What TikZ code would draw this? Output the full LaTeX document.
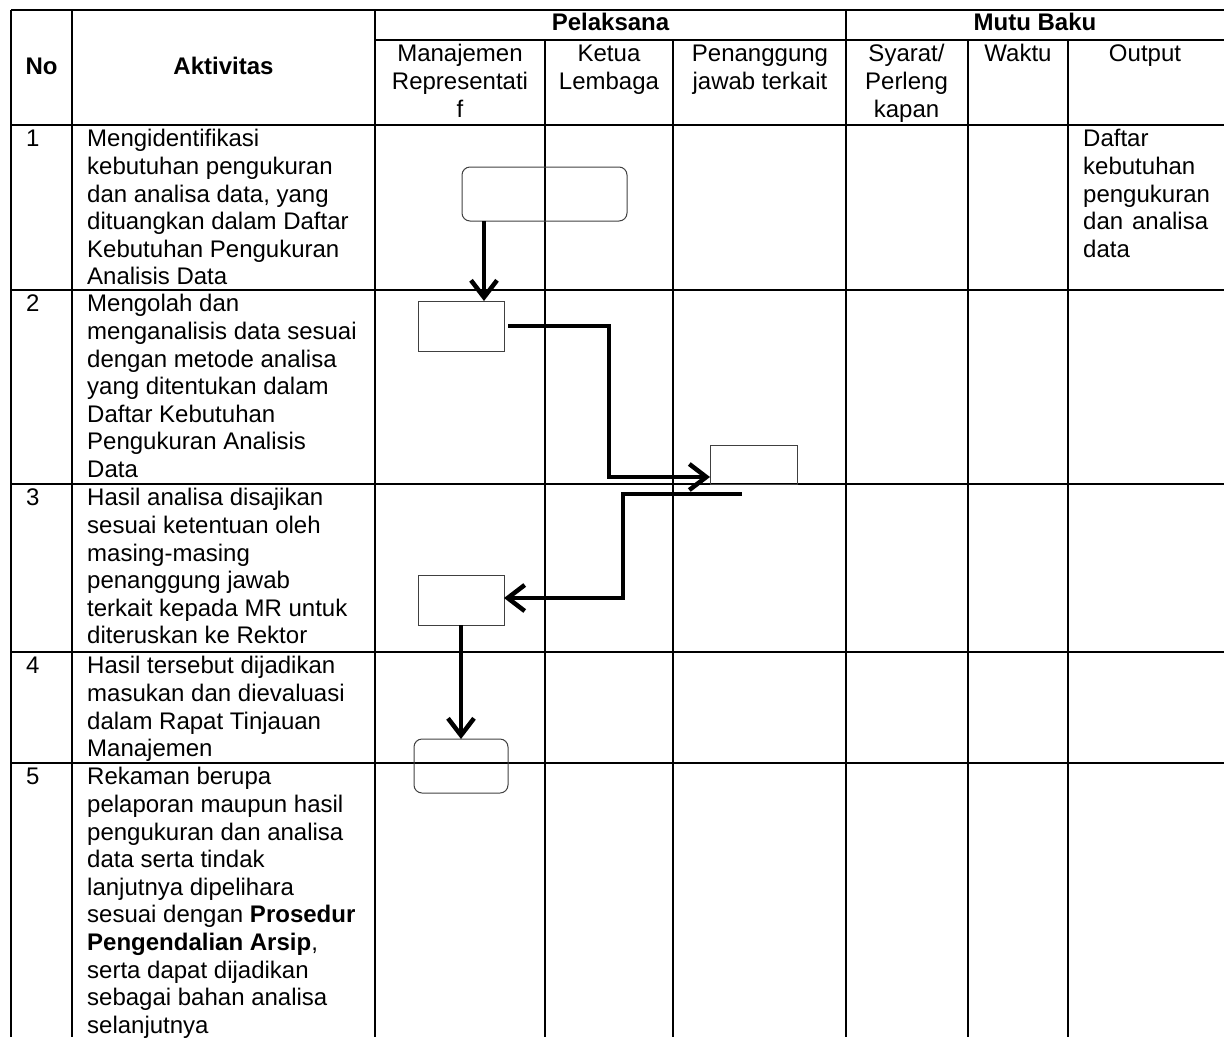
\documentclass[tikz,border=0pt]{standalone}
\usepackage{fontspec}
\setmainfont{Liberation Sans}
\usetikzlibrary{arrows.meta}
\newcommand\fst{\rule{0pt}{21.7pt}}
\newcommand\cellfont{\fontsize{24}{27.6}\selectfont}
\begin{document}
\begin{tikzpicture}[x=1pt,y=-1pt,
  tbl/.style={line width=2pt, black},
  conn/.style={line width=4.5pt, -{Straight Barb[length=17pt,width=26pt]}},
  procbox/.style={draw=black!75, line width=1pt, inner sep=0pt, outer sep=0pt},
  termbox/.style={procbox, rounded corners=8pt},
  cell/.style={anchor=north west, inner sep=0pt, align=left, font=\cellfont},
  hcell/.style={anchor=north, inner sep=0pt, align=center, font=\cellfont},
  bhead/.style={anchor=base, inner sep=0pt, font=\cellfont\bfseries}]
\useasboundingbox (0,0) rectangle (1224,1037);
% table grid
\draw[tbl] (11,10) -- (1224,10);
\draw[tbl] (375,40) -- (1224,40);
\foreach \y in {125,290,484,652,763} \draw[tbl] (11,\y) -- (1224,\y);
\foreach \x in {11,72,375,846} \draw[tbl] (\x,10) -- (\x,1037);
\foreach \x in {545,673,968,1068} \draw[tbl] (\x,40) -- (\x,1037);
% headers
\node[bhead] (hno) at (41.5,74) {No};
\node[bhead] (hakt) at (223.5,74) {Aktivitas};
\node[hcell,font=\cellfont\bfseries] (hpel) at (610.5,9) {\fst Pelaksana};
\node[hcell,font=\cellfont\bfseries] (hmutu) at (1035,9) {\fst Mutu Baku};
\node[hcell] (hmr) at (460,40) {\fst Manajemen\\Representati\\f};
\node[hcell] (hkl) at (609,40) {\fst Ketua\\Lembaga};
\node[hcell] (hpj) at (760,40) {\fst Penanggung\\jawab terkait};
\node[hcell] (hsy) at (906.5,40) {\fst Syarat/\\Perleng\\kapan};
\node[hcell] (hwk) at (1018,40) {\fst Waktu};
\node[hcell] (hout) at (1145,40) {\fst Output};
% numbers
\node[cell] (n1) at (26,125) {\fst 1};
\node[cell] (n2) at (26,290) {\fst 2};
\node[cell] (n3) at (26,484) {\fst 3};
\node[cell] (n4) at (26,652) {\fst 4};
\node[cell] (n5) at (26,763) {\fst 5};
% activities
\node[cell] (t1) at (87,125) {\fst Mengidentifikasi\\kebutuhan pengukuran\\dan analisa data, yang\\dituangkan dalam Daftar\\Kebutuhan Pengukuran\\Analisis Data};
\node[cell] (t2) at (87,290) {\fst Mengolah dan\\menganalisis data sesuai\\dengan metode analisa\\yang ditentukan dalam\\Daftar Kebutuhan\\Pengukuran Analisis\\Data};
\node[cell] (t3) at (87,484) {\fst Hasil analisa disajikan\\sesuai ketentuan oleh\\masing-masing\\penanggung jawab\\terkait kepada MR untuk\\diteruskan ke Rektor};
\node[cell] (t4) at (87,652) {\fst Hasil tersebut dijadikan\\masukan dan dievaluasi\\dalam Rapat Tinjauan\\Manajemen};
\node[cell] (t5) at (87,763) {\fst Rekaman berupa\\pelaporan maupun hasil\\pengukuran dan analisa\\data serta tindak\\lanjutnya dipelihara\\sesuai dengan \textbf{Prosedur}\\\textbf{Pengendalian Arsip},\\serta dapat dijadikan\\sebagai bahan analisa\\selanjutnya};
% output
\node[cell] (o1) at (1083,125) {\fst Daftar\\kebutuhan\\pengukuran\\\makebox[125pt][s]{dan analisa}\\data};
% flow shapes
\node[termbox, minimum width=165pt, minimum height=54pt] (s1) at (544.5,194) {};
\node[procbox, minimum width=86pt, minimum height=50pt] (b2) at (461,326) {};
\node[procbox, minimum width=87pt, minimum height=39pt] (b3) at (753.5,464.5) {};
\node[procbox, minimum width=86pt, minimum height=50pt] (b4) at (461,600) {};
\node[termbox, minimum width=94pt, minimum height=54pt] (s5) at (461,766) {};
% helper coordinates
\coordinate (c1) at (484,0);
\coordinate (k2a) at (609,326);
\coordinate (k2b) at (609,477);
\coordinate (e3) at (742,494);
\coordinate (k3a) at (623,494);
\coordinate (k3b) at (623,598);
% connectors
\draw[conn] (s1.south -| c1) -- (b2.north -| c1);
\draw[conn] ([xshift=4pt]b2.east) -- (k2a) -- (k2b) -- (k2b -| b3.west);
\draw[conn] (e3) -- (k3a) -- (k3b) -- (k3b -| b4.east);
\draw[conn] (b4.south) -- (s5.north);
\end{tikzpicture}
\end{document}
